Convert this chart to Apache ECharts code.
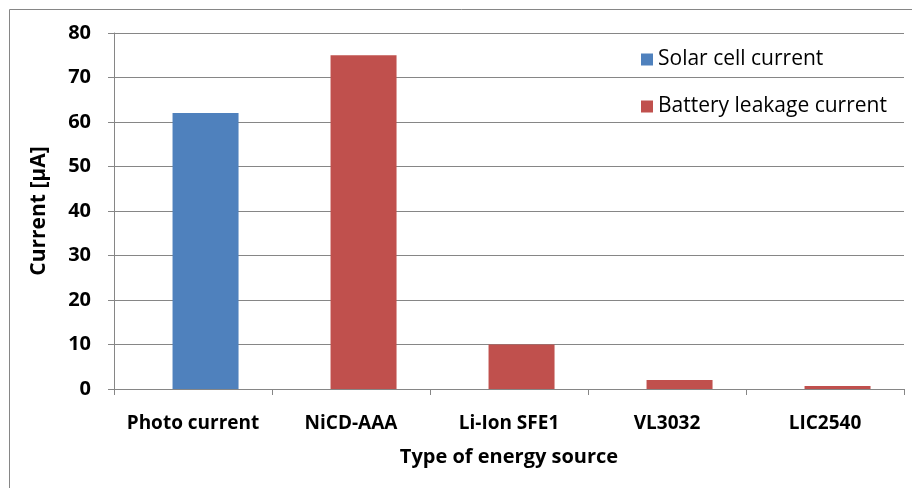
<!DOCTYPE html>
<html>
<head>
<meta charset="utf-8">
<script src="https://cdn.jsdelivr.net/npm/echarts@6/dist/echarts.min.js"></script>
<style>
  html, body { margin: 0; padding: 0; background: #fff; }
  #main { width: 912px; height: 488px; }
</style>
</head>
<body>
<div id="main"></div>
<script>
// data
var categories = ['Photo current', 'NiCD-AAA', 'Li-Ion SFE1', 'VL3032', 'LIC2540'];
var solarCurrent = [62, null, null, null, null];
var leakageCurrent = [null, 75, 10, 2, 0.7];
var seriesNames = ['Solar cell current', 'Battery leakage current'];

var myChart = echarts.init(document.getElementById('main'));
var fontFam = '"Open Sans", "Liberation Sans", sans-serif';

var option = {
  backgroundColor: '#ffffff',
  animation: false,
  graphic: [{
    type: 'rect',
    shape: { x: 9.5, y: 9.5, width: 930, height: 500 },
    style: { fill: 'none', stroke: '#868686', lineWidth: 1 },
    silent: true
  }],
  legend: {
    orient: 'vertical',
    left: 636,
    top: 44,
    itemWidth: 12,
    itemHeight: 12,
    itemGap: 26,
    icon: 'rect',
    textStyle: { fontFamily: fontFam, fontSize: 21, lineHeight: 21, color: '#000' },
    data: seriesNames
  },
  grid: { left: 114, right: 8, top: 33, bottom: 99 },
  xAxis: {
    type: 'category',
    data: categories,
    name: 'Type of energy source',
    nameLocation: 'middle',
    nameGap: 58,
    nameTextStyle: { fontFamily: fontFam, fontSize: 20, fontWeight: 'bold', color: '#000' },
    axisLine: { lineStyle: { color: '#868686' } },
    axisTick: { show: true, length: 6, lineStyle: { color: '#868686' } },
    axisLabel: { interval: 0, fontFamily: fontFam, fontSize: 19, fontWeight: 'bold', color: '#000', margin: 25 }
  },
  yAxis: {
    type: 'value',
    min: 0,
    max: 80,
    interval: 10,
    name: 'Current [µA]',
    nameLocation: 'middle',
    nameGap: 64,
    nameTextStyle: { fontFamily: fontFam, fontSize: 21, fontWeight: 'bold', color: '#000' },
    axisLine: { show: true, lineStyle: { color: '#868686' } },
    axisTick: { show: true, length: 6, lineStyle: { color: '#868686' } },
    splitLine: { lineStyle: { color: '#868686' } },
    axisLabel: { fontFamily: fontFam, fontSize: 20, fontWeight: 'bold', color: '#000', margin: 23 }
  },
  series: [
    {
      // empty placeholder, pushes the real bars a bit right of the category centre
      type: 'bar',
      barWidth: 66,
      data: []
    },
    {
      name: seriesNames[0],
      type: 'bar',
      stack: 'one',
      barWidth: 66,
      barGap: '-62%',
      itemStyle: { color: '#4F81BD' },
      data: solarCurrent
    },
    {
      name: seriesNames[1],
      type: 'bar',
      stack: 'one',
      barWidth: 66,
      barGap: '-62%',
      itemStyle: { color: '#C0504D' },
      data: leakageCurrent
    }
  ]
};
myChart.setOption(option);
</script>
</body>
</html>
